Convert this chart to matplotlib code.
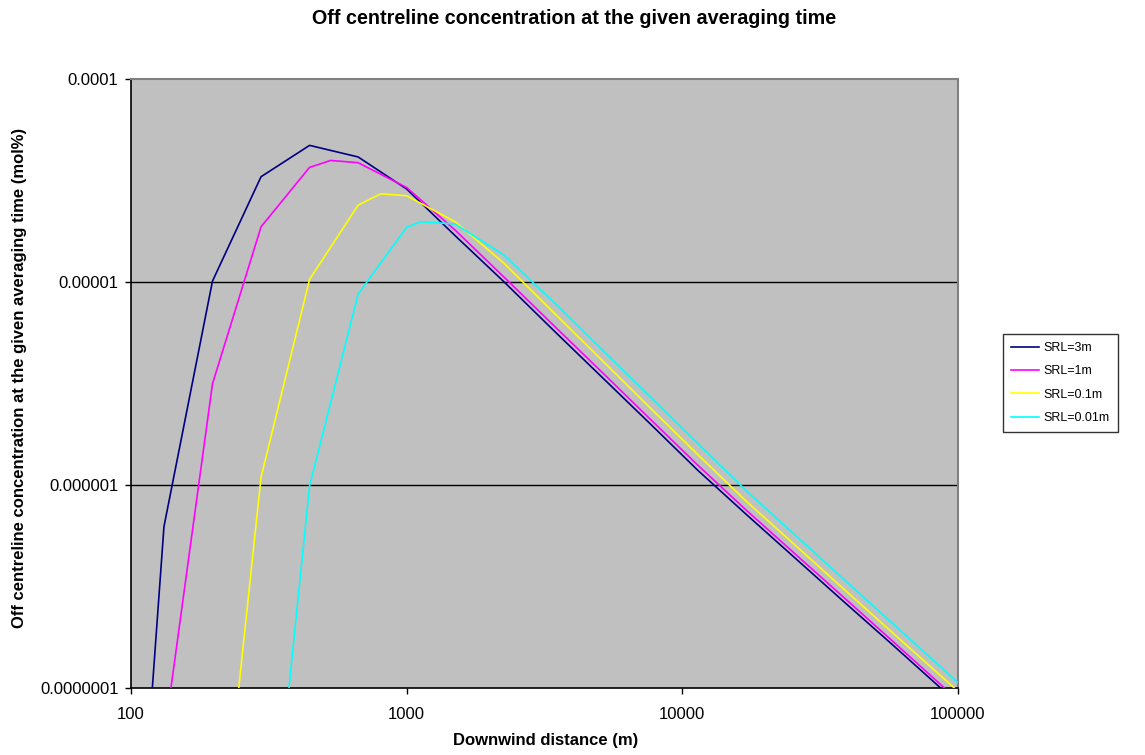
import matplotlib
matplotlib.use("Agg")
import matplotlib.pyplot as plt
from matplotlib.ticker import FixedLocator, FixedFormatter, NullLocator

# Downwind distances (m) and off-centreline concentrations (mol%) per surface roughness length
dist_3m = [87.8, 131.7, 197.5, 296.3, 444.4, 666.7, 1000, 1500, 2250, 3375, 5062.5,
           7593.75, 11390.6, 17085.9, 25628.9, 38443.4, 57665, 86498, 129746]
conc_3m = [3.0e-10, 6.24e-7, 1.01e-5, 3.3e-5, 4.71e-5, 4.13e-5, 2.87e-5, 1.69e-5, 1.005e-5,
           5.86e-6, 3.44e-6, 2.02e-6, 1.18e-6, 7.15e-7, 4.37e-7, 2.67e-7, 1.64e-7, 1.0e-7, 6.1e-8]

dist_1m = [87.8, 131.7, 197.5, 296.3, 444.4, 530, 666.7, 1000, 1500, 2250, 3375, 5062.5,
           7593.75, 11390.6, 17085.9, 25628.9, 38443.4, 57665, 86498, 129746]
conc_1m = [1.0e-11, 5.6e-8, 3.15e-6, 1.87e-5, 3.67e-5, 3.97e-5, 3.87e-5, 2.92e-5, 1.8e-5, 1.06e-5,
           6.2e-6, 3.64e-6, 2.13e-6, 1.25e-6, 7.5e-7, 4.58e-7, 2.8e-7, 1.71e-7, 1.04e-7, 6.4e-8]

dist_01m = [131.7, 197.5, 296.3, 444.4, 666.7, 805, 1000, 1500, 2250, 3375, 5062.5,
            7593.75, 11390.6, 17085.9, 25628.9, 38443.4, 57665, 86498, 129746]
conc_01m = [1.0e-12, 6.0e-9, 1.09e-6, 1.03e-5, 2.39e-5, 2.72e-5, 2.66e-5, 1.98e-5, 1.24e-5,
            7.18e-6, 4.17e-6, 2.42e-6, 1.41e-6, 8.3e-7, 5.06e-7, 3.08e-7, 1.88e-7, 1.15e-7, 7.0e-8]

dist_001m = [197.5, 296.3, 444.4, 666.7, 1000, 1125, 1500, 2250, 3375, 5062.5,
             7593.75, 11390.6, 17085.9, 25628.9, 38443.4, 57665, 86498, 129746]
conc_001m = [1.0e-12, 4.5e-9, 9.9e-7, 8.72e-6, 1.86e-5, 1.98e-5, 1.93e-5, 1.36e-5,
             8.08e-6, 4.71e-6, 2.74e-6, 1.6e-6, 9.35e-7, 5.67e-7, 3.44e-7, 2.09e-7, 1.27e-7, 7.7e-8]

series_labels = ["SRL=3m", "SRL=1m", "SRL=0.1m", "SRL=0.01m"]
series_colors = ["#000080", "#FF00FF", "#FFFF00", "#00FFFF"]

x_ticks = [100, 1000, 10000, 100000]
x_tick_labels = ["100", "1000", "10000", "100000"]
y_ticks = [1e-7, 1e-6, 1e-5, 1e-4]
y_tick_labels = ["0.0000001", "0.000001", "0.00001", "0.0001"]

plt.rcParams["font.family"] = ["Liberation Sans", "DejaVu Sans"]

fig = plt.figure(figsize=(11.45, 7.55), dpi=100)
fig.patch.set_facecolor("white")
ax = fig.add_axes([131 / 1145, 1 - 688 / 755, (958 - 131) / 1145, (688 - 79) / 755])
ax.set_facecolor("#C0C0C0")

ax.set_xscale("log")
ax.set_yscale("log")
ax.set_xlim(100, 100000)
ax.set_ylim(1e-7, 1e-4)

# horizontal gridlines at the decades
for yv in y_ticks[1:-1]:
    ax.axhline(yv, color="black", lw=1.0, zorder=1)

all_dist = [dist_3m, dist_1m, dist_01m, dist_001m]
all_conc = [conc_3m, conc_1m, conc_01m, conc_001m]
for d, c, lab, col in zip(all_dist, all_conc, series_labels, series_colors):
    ax.plot(d, c, color=col, lw=1.2, label=lab, zorder=3)

ax.xaxis.set_major_locator(FixedLocator(x_ticks))
ax.xaxis.set_major_formatter(FixedFormatter(x_tick_labels))
ax.xaxis.set_minor_locator(NullLocator())
ax.yaxis.set_major_locator(FixedLocator(y_ticks))
ax.yaxis.set_major_formatter(FixedFormatter(y_tick_labels))
ax.yaxis.set_minor_locator(NullLocator())

ax.tick_params(axis="x", direction="out", length=4, width=1, pad=10, labelsize=12)
ax.tick_params(axis="y", direction="out", length=4, width=1, pad=5, labelsize=12)

for side in ("left", "bottom"):
    ax.spines[side].set_color("black")
    ax.spines[side].set_linewidth(1.2)
for side in ("top", "right"):
    ax.spines[side].set_color("#808080")
    ax.spines[side].set_linewidth(1.5)

fig.text(574 / 1145, 1 - 19 / 755, "Off centreline concentration at the given averaging time",
         ha="center", va="center", fontsize=14.2, fontweight="bold")
fig.text(546 / 1145, 1 - 741 / 755, "Downwind distance (m)",
         ha="center", va="center", fontsize=12, fontweight="bold")
fig.text(20 / 1145, 1 - 378 / 755,
         "Off centreline concentration at the given averaging time (mol%)",
         ha="center", va="center", rotation=90, fontsize=12, fontweight="bold")

leg = fig.legend(loc="upper left", bbox_to_anchor=(1003 / 1145, 1 - 334 / 755),
                 frameon=True, fancybox=False, fontsize=9, handlelength=2.2,
                 handletextpad=0.4, labelspacing=0.9, borderpad=0.65, borderaxespad=0)
leg.get_frame().set_edgecolor("black")
leg.get_frame().set_linewidth(1.0)

fig.savefig("out.png", dpi=100, facecolor="white")
